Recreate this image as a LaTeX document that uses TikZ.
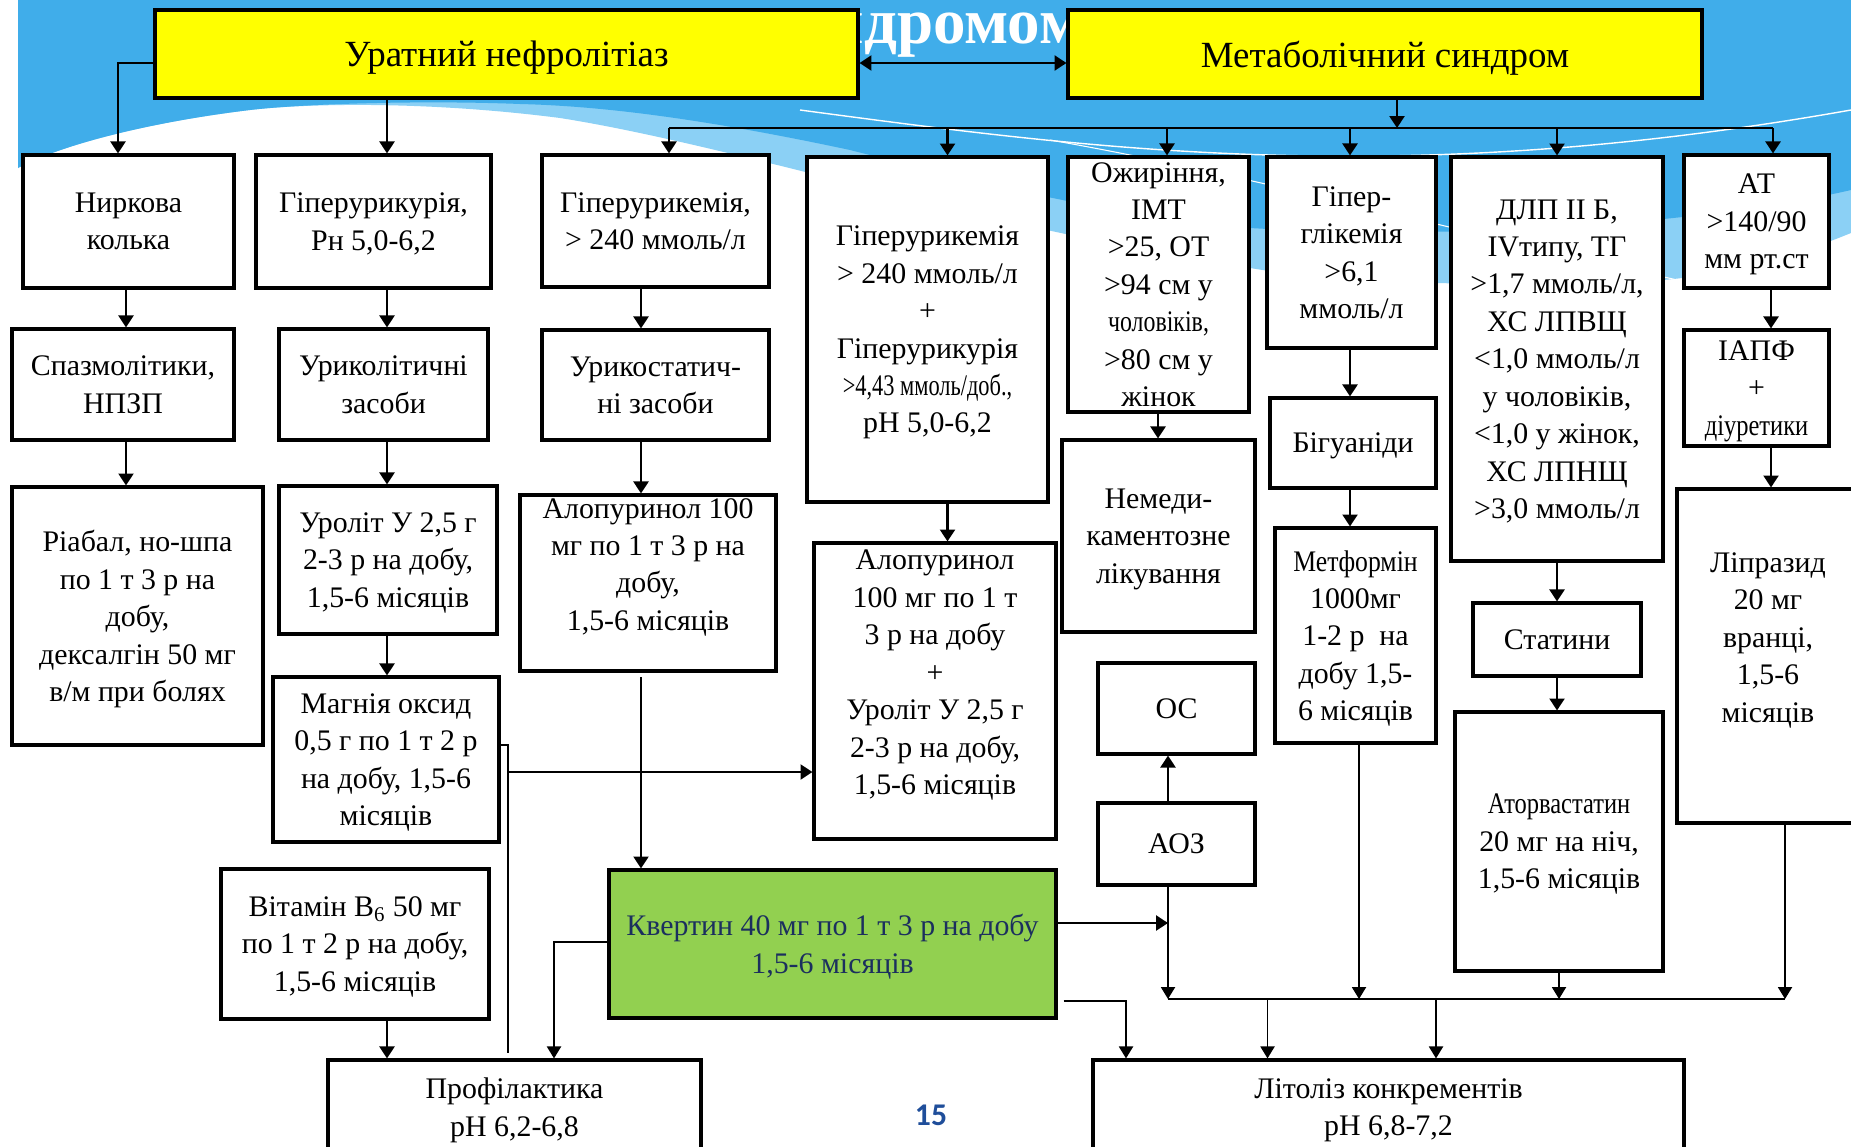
\documentclass[tikz,border=0pt]{standalone}
\usepackage{fontspec}
\setmainfont{Liberation Serif}
\newfontfamily\numfont{Carlito}
\usetikzlibrary{arrows.meta,calc}
\definecolor{skyblue}{HTML}{40ADEA}
\definecolor{paleblue}{HTML}{8BD0F5}
\definecolor{boxyellow}{HTML}{FFFF00}
\definecolor{boxgreen}{HTML}{92D050}
\definecolor{navytext}{HTML}{1B2F5E}
\definecolor{pageblue}{HTML}{1F4E9A}
\begin{document}
\begin{tikzpicture}[x=0.02cm, y=-0.02cm,
  box/.style={draw, line width=1.8pt, fill=white, inner sep=0pt, text depth=0pt, align=center, font=\fontsize{17}{21.3}\selectfont},
  ybox/.style={box, fill=boxyellow, font=\fontsize{21}{25}\selectfont},
  gbox/.style={box, fill=boxgreen, text=navytext},
  conn/.style={line width=1.4pt},
  thinconn/.style={line width=1pt},
  arr/.style={conn, -{Triangle[length=6.8pt,width=8.5pt]}},
  thinarr/.style={thinconn, -{Triangle[length=6.8pt,width=8pt]}},
  dblarr/.style={conn, {Triangle[length=6.8pt,width=8.5pt]}-{Triangle[length=6.8pt,width=8.5pt]}}]

\useasboundingbox (0,0) rectangle (1851,1146);
\fill[white] (0,0) rectangle (1851,1146);
\fill[paleblue] (18,0) -- (1851,0) -- (1851,233) .. controls (1780,262) and (1720,275) .. (1663,280)
  .. controls (1550,288) and (1350,285) .. (1250,268) .. controls (1150,255) and (1100,245) .. (1080,237)
  .. controls (900,200) and (700,140) .. (560,118) .. controls (420,100) and (300,104) .. (250,110)
  .. controls (150,122) and (60,145) .. (18,168) -- cycle;
\fill[skyblue] (18,0) -- (1851,0) -- (1851,190) .. controls (1700,225) and (1450,240) .. (1250,228)
  .. controls (1100,215) and (950,175) .. (850,150) .. controls (700,118) and (600,106) .. (520,104)
  .. controls (420,100) and (300,104) .. (250,110) .. controls (150,122) and (60,145) .. (18,168) -- cycle;
\draw[white, line width=0.8pt] (800,110) .. controls (1100,150) and (1400,190) .. (1851,110);
\draw[white, line width=0.6pt] (1050,140) .. controls (1250,175) and (1450,230) .. (1700,285);
\node[anchor=base west, text=white, inner sep=0pt, font=\fontsize{37}{37}\selectfont\bfseries] (title) at (760,43) {синдромом};

\node[ybox, minimum width=14.06cm, minimum height=1.76cm] (urat) at (506.5,54) {Уратний нефролітіаз};
\node[ybox, minimum width=12.68cm, minimum height=1.76cm] (metab) at (1385,54) {Метаболічний синдром};

\node[box, minimum width=4.22cm, minimum height=2.66cm] (kolka) at (128.5,221.5) {Ниркова\\колька};
\node[box, minimum width=4.70cm, minimum height=2.66cm] (hurik) at (373.5,221.5) {Гіперурикурія,\\Рн 5,0-6,2};
\node[box, minimum width=4.54cm, minimum height=2.64cm] (hurem) at (655.5,221) {Гіперурикемія,\\> 240 ммоль/л};
\node[box, minimum width=4.82cm, minimum height=6.90cm] (hboth) at (927.5,329.5) {Гіперурикемія\\> 240 ммоль/л\\+\\Гіперурикурія\\\scalebox{0.75}[1]{>4,43 ммоль/доб.,}\\рН 5,0-6,2};
\node[box, minimum width=3.62cm, minimum height=5.10cm] (ozhyr) at (1158.5,284.5) {Ожиріння,\\ІМТ\\>25, ОТ\\>94 см у\\\scalebox{0.8}[1]{чоловіків,}\\>80 см у\\жінок};
\node[box, minimum width=3.38cm, minimum height=3.82cm] (hglik) at (1351.5,252.5) {Гіпер-\\глікемія\\>6,1\\ммоль/л};
\node[box, minimum width=4.24cm, minimum height=8.08cm] (dlp) at (1557,359) {ДЛП II Б,\\IVтипу, ТГ\\>1,7 ммоль/л,\\ХС ЛПВЩ\\<1,0 ммоль/л\\у чоловіків,\\<1,0 у жінок,\\ХС ЛПНЩ\\>3,0 ммоль/л};
\node[box, minimum width=2.90cm, minimum height=2.66cm] (at) at (1756.5,221.5) {АТ\\>140/90\\мм рт.ст};

\node[box, minimum width=4.44cm, minimum height=2.22cm] (spazm) at (123,384.5) {Спазмолітики,\\НПЗП};
\node[box, minimum width=4.18cm, minimum height=2.22cm] (urikol) at (383.5,384.5) {Уриколітичні\\засоби};
\node[box, minimum width=4.54cm, minimum height=2.20cm] (urikost) at (655.5,385) {Урикостатич-\\ні засоби};
\node[box, minimum width=3.32cm, minimum height=1.80cm] (bigu) at (1353,443) {Бігуаніди};
\node[box, minimum width=2.90cm, minimum height=2.32cm] (iapf) at (1756.5,388) {ІАПФ\\+\\\scalebox{0.82}[1]{діуретики}};
\node[box, minimum width=3.86cm, minimum height=3.84cm] (nemed) at (1158.5,536) {Немеди-\\каментозне\\лікування};

\node[box, minimum width=5.02cm, minimum height=5.16cm] (riabal) at (137.5,616) {Ріабал, но-шпа\\по 1 т 3 р на\\добу,\\дексалгін 50 мг\\в/м при болях};
\node[box, minimum width=4.36cm, minimum height=2.96cm] (urolit) at (388,560) {Уроліт У 2,5 г\\2-3 р на добу,\\1,5-6 місяців};
\node[box, minimum width=5.12cm, minimum height=3.52cm] (alop1) at (648,583) {Алопуринол 100\\мг по 1 т 3 р на\\добу,\\1,5-6 місяців\\\mbox{}};
\node[box, minimum width=4.84cm, minimum height=5.92cm] (alop2) at (935,691) {Алопуринол\\100 мг по 1 т\\3 р на добу\\+\\Уроліт У 2,5 г\\2-3 р на добу,\\1,5-6 місяців\\\mbox{}};
\node[box, minimum width=3.22cm, minimum height=4.30cm] (metf) at (1355.5,635.5) {\scalebox{0.86}[1]{Метформін}\\1000мг\\1-2 р\ \ на\\добу 1,5-\\6 місяців};
\node[box, minimum width=3.36cm, minimum height=1.46cm] (statyn) at (1557,639.5) {Статини};
\node[box, minimum width=3.64cm, minimum height=6.68cm] (lipraz) at (1768,656) {Ліпразид\\20 мг\\вранці,\\1,5-6\\місяців\\\mbox{}};
\node[box, minimum width=4.16cm, minimum height=5.18cm] (atorv) at (1559,841.5) {\scalebox{0.82}[1]{Аторвастатин}\\20 мг на ніч,\\1,5-6 місяців};
\node[box, minimum width=4.52cm, minimum height=3.30cm] (magn) at (386,759.5) {Магнія оксид\\0,5 г по 1 т 2 р\\на добу, 1,5-6\\місяців};
\node[box, minimum width=3.14cm, minimum height=1.82cm] (os) at (1176.5,708.5) {ОС};
\node[box, minimum width=3.14cm, minimum height=1.64cm] (aoz) at (1176.5,844) {АОЗ};
\node[box, minimum width=5.36cm, minimum height=3.00cm] (vitam) at (355,944) {Вітамін B\textsubscript{6} 50 мг\\по 1 т 2 р на добу,\\1,5-6 місяців};
\node[gbox, minimum width=8.94cm, minimum height=2.96cm] (kvert) at (832.5,944) {Квертин 40 мг по 1 т 3 р на добу\\1,5-6 місяців};
\node[box, minimum width=7.46cm, minimum height=1.88cm] (profil) at (514.5,1107) {Профілактика\\рН 6,2-6,8};
\node[box, minimum width=11.82cm, minimum height=1.88cm] (litol) at (1388.5,1107) {Літоліз конкрементів\\рН 6,8-7,2};
\node[text=pageblue, font=\numfont\bfseries\fontsize{18}{18}\selectfont] (pnum) at (931,1115) {15};

\coordinate (ax1) at (126,0);
\coordinate (ax2) at (387,0);
\coordinate (ax3) at (641,0);
\coordinate (ax4) at (947.5,0);
\coordinate (ax5) at (1158,0);
\coordinate (ax6) at (1350,0);
\coordinate (ax7) at (1557,0);
\coordinate (ax8) at (1771,0);
\coordinate (ax9) at (1168,0);
\coordinate (ax10) at (1126,0);
\coordinate (ax11) at (554,0);
\coordinate (busM) at (1397,128);
\coordinate (d3) at (669,128);
\coordinate (d4) at (947.5,128);
\coordinate (d5) at (1167,128);
\coordinate (d6) at (1350,128);
\coordinate (d7) at (1557,128);
\coordinate (d8) at (1773,128);
\coordinate (b1) at (1168,999);
\coordinate (b2) at (1359,999);
\coordinate (b3) at (1559,999);
\coordinate (b4) at (1785,999);
\coordinate (b5) at (1267.5,999);
\coordinate (b6) at (1436,999);
\coordinate (a1) at (641,677);
\coordinate (m1) at ($(magn.east)+(0,-14.5)$);
\coordinate (m2) at (508,1053);
\coordinate (m3) at (508,772);
\coordinate (k1) at ($(kvert.east)+(0,-21)$);
\coordinate (k2) at ($(kvert.east)+(6,57)$);
\coordinate (k3) at ($(kvert.west)+(0,-2)$);

\draw[dblarr] ($(urat.east)+(0,9)$) -- ($(metab.west)+(0,9)$);
\draw[arr] ($(urat.west)+(0,9)$) -| ($(kolka.north)+(-10.5,0)$);
\draw[arr] (urat.south -| ax2) -- (hurik.north -| ax2);
\draw[arr] (metab.south -| busM) -- (busM);
\draw[conn] (d3) -- (d8);
\draw[arr] (d3) -- (hurem.north -| d3);
\draw[arr] (d4) -- (hboth.north -| d4);
\draw[arr] (d5) -- (ozhyr.north -| d5);
\draw[arr] (d6) -- (hglik.north -| d6);
\draw[arr] (d7) -- (dlp.north -| d7);
\draw[arr] (d8) -- (at.north -| d8);

\draw[arr] (kolka.south -| ax1) -- (spazm.north -| ax1);
\draw[arr] (spazm.south -| ax1) -- (riabal.north -| ax1);
\draw[arr] (hurik.south -| ax2) -- (urikol.north -| ax2);
\draw[arr] (urikol.south -| ax2) -- (urolit.north -| ax2);
\draw[arr] (urolit.south -| ax2) -- (magn.north -| ax2);
\draw[arr] (hurem.south -| ax3) -- (urikost.north -| ax3);
\draw[arr] (urikost.south -| ax3) -- (alop1.north -| ax3);
\draw[arr] (a1) -- (kvert.north -| a1);
\draw[arr] (hboth.south -| ax4) -- (alop2.north -| ax4);
\draw[arr] (ozhyr.south -| ax5) -- (nemed.north -| ax5);
\draw[arr] (hglik.south -| ax6) -- (bigu.north -| ax6);
\draw[arr] (bigu.south -| ax6) -- (metf.north -| ax6);
\draw[arr] (dlp.south -| ax7) -- (statyn.north -| ax7);
\draw[arr] (statyn.south -| ax7) -- (atorv.north -| ax7);
\draw[arr] (at.south -| ax8) -- (iapf.north -| ax8);
\draw[arr] (iapf.south -| ax8) -- (lipraz.north -| ax8);
\draw[arr] (aoz.north -| ax9) -- (os.south -| ax9);

\draw[thinconn] (m1) -| (m2);
\draw[arr] (m3) -- (m3 -| alop2.west);
\draw[arr] (vitam.south -| ax2) -- (profil.north -| ax2);
\draw[thinarr] (k3) -| (profil.north -| ax11);
\draw[arr] (k1) -- (k1 -| b1);
\draw[thinarr] (k2) -| (litol.north -| ax10);

\draw[thinconn] (b1) -- (b4);
\draw[thinarr] (aoz.south -| b1) -- (b1);
\draw[thinarr] (metf.south -| b2) -- (b2);
\draw[thinarr] (atorv.south -| b3) -- (b3);
\draw[thinarr] (lipraz.south -| b4) -- (b4);
\draw[thinarr] (b5) -- (litol.north -| b5);
\draw[thinarr] (b6) -- (litol.north -| b6);
\end{tikzpicture}
\end{document}
